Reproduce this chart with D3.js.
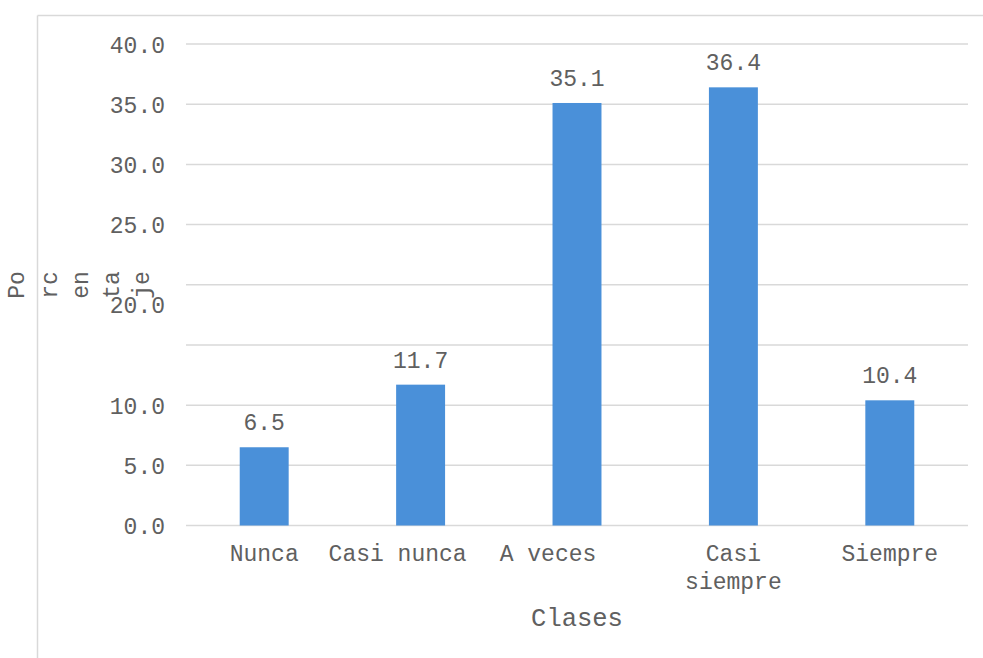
<!DOCTYPE html>
<html>
<head>
<meta charset="utf-8">
<script src="https://cdn.jsdelivr.net/npm/d3@7/dist/d3.min.js"></script>
<style>
  html, body { margin: 0; padding: 0; background: #ffffff; }
  svg { display: block; }
  text { font-family: "Liberation Mono", "Courier New", monospace; fill: #606060; }
</style>
</head>
<body>
<svg id="chart" width="983" height="658"></svg>
<script>
// Percentage of answers per class
const categories = ["Nunca", "Casi nunca", "A veces", "Casi siempre", "Siempre"];
const values = [6.5, 11.7, 35.1, 36.4, 10.4];
const tickValues = [0, 5, 10, 15, 20, 25, 30, 35, 40];
const tickLabels = ["0.0", "5.0", "10.0", "", "20.0", "25.0", "30.0", "35.0", "40.0"];
// Category labels broken across lines as in the axis
const categoryLines = [["Nunca"], ["Casi nunca"], ["A veces"], ["Casi", "siempre"], ["Siempre"]];
const yTitlePieces = ["Po", "rc", "en", "ta", "je"];
const xTitle = "Clases";

const svg = d3.select("#chart");
const gridColor = "#d9d9d9";
const barColor = "#4a90d9";
const fontSize = 23;

// Outer frame (left and top edges visible)
svg.append("line").attr("x1", 37.5).attr("y1", 15.5).attr("x2", 37.5).attr("y2", 658)
  .attr("stroke", gridColor).attr("stroke-width", 1.5);
svg.append("line").attr("x1", 37.5).attr("y1", 15.5).attr("x2", 983).attr("y2", 15.5)
  .attr("stroke", gridColor).attr("stroke-width", 1.5);

const plot = { left: 186, right: 968, top: 44, bottom: 525.5 };

const x = d3.scaleBand().domain(categories).range([plot.left, plot.right]).padding(0);
const y = d3.scaleLinear().domain([0, 40]).range([plot.bottom, plot.top]);
const barWidth = x.step() * 0.313;

// Gridlines
svg.append("g")
  .selectAll("line")
  .data(tickValues)
  .join("line")
  .attr("x1", plot.left).attr("x2", plot.right)
  .attr("y1", d => y(d)).attr("y2", d => y(d))
  .attr("stroke", gridColor).attr("stroke-width", 1.5);

// Y axis labels
const yAxis = d3.axisLeft(y)
  .tickValues(tickValues)
  .tickSize(0)
  .tickPadding(0)
  .tickFormat((d, i) => tickLabels[i]);
const yg = svg.append("g").attr("transform", `translate(${plot.left - 21},0)`).call(yAxis);
yg.select(".domain").remove();
yg.selectAll("text")
  .attr("font-size", fontSize)
  .attr("font-family", "Liberation Mono, Courier New, monospace")
  .attr("fill", "#606060")
  .attr("dy", (d) => d === 20 ? "1.2em" : "0.35em");

// Bars
svg.append("g")
  .selectAll("rect")
  .data(values)
  .join("rect")
  .attr("x", (d, i) => x(categories[i]) + x.bandwidth() / 2 - barWidth / 2)
  .attr("y", d => y(d))
  .attr("width", barWidth)
  .attr("height", d => y(0) - y(d))
  .attr("fill", barColor);

// Value labels
svg.append("g")
  .selectAll("text")
  .data(values)
  .join("text")
  .attr("x", (d, i) => x(categories[i]) + x.bandwidth() / 2)
  .attr("y", d => y(d) - 25)
  .attr("dy", "0.35em")
  .attr("text-anchor", "middle")
  .attr("font-size", fontSize)
  .text(d => d.toFixed(1));

// Category labels; the two middle labels sit a little left of their band centre
const labelShift = [0, -23, -29, 0, 0];
const catG = svg.append("g")
  .selectAll("text")
  .data(categoryLines)
  .join("text")
  .attr("text-anchor", "middle")
  .attr("font-size", fontSize);
catG.each(function (lines, i) {
  const cx = x(categories[i]) + x.bandwidth() / 2 + labelShift[i];
  d3.select(this).selectAll("tspan")
    .data(lines)
    .join("tspan")
    .attr("x", cx)
    .attr("y", (l, j) => 553 + j * 28)
    .attr("dy", "0.35em")
    .text(l => l);
});

// Axis titles
svg.append("text")
  .attr("x", (plot.left + plot.right) / 2)
  .attr("y", 617)
  .attr("dy", "0.35em")
  .attr("text-anchor", "middle")
  .attr("font-size", 25.5)
  .text(xTitle);

const yTitleX = [16, 49, 80, 111, 141];
svg.append("g")
  .selectAll("text")
  .data(yTitlePieces)
  .join("text")
  .attr("transform", (d, i) => `translate(${yTitleX[i]},285) rotate(-90)`)
  .attr("text-anchor", "middle")
  .attr("dy", "0.35em")
  .attr("font-size", fontSize)
  .text(d => d);
</script>
</body>
</html>
